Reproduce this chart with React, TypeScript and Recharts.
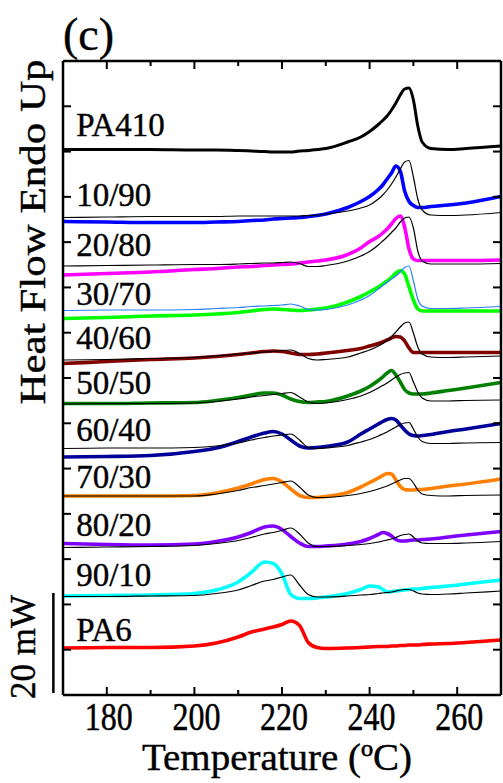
import { LineChart, Line, XAxis, YAxis, ReferenceLine, ReferenceDot, Label } from "recharts";

// DSC heating scans, stacked with offsets (mW). Thin lines are the
// additive PA410/PA6 predictions drawn under each blend.
const TEMPS = [170, 180, 190, 200, 205, 210, 213, 216, 218, 220, 222, 224, 226, 228, 230, 235, 238, 240, 242, 243, 244, 245, 246, 247, 248, 249, 250, 251, 252, 254, 258, 262, 270];

const PA410 = [109.1, 109.1, 109.1, 109.0, 109.0, 108.9, 108.8, 108.7, 108.6, 108.6, 108.6, 108.8, 108.9, 109.1, 109.3, 110.6, 111.6, 112.7, 114.1, 114.9, 115.8, 117.0, 118.4, 120.0, 121.2, 121.4, 119.0, 113.8, 110.6, 109.3, 109.1, 109.3, 109.8];
const B1090 = [94.7, 94.6, 94.5, 94.5, 94.6, 94.7, 94.9, 95.0, 95.2, 95.3, 95.4, 95.5, 95.7, 95.9, 96.2, 97.5, 98.7, 99.7, 101.1, 102.0, 103.2, 104.4, 105.8, 104.8, 100.8, 98.7, 97.9, 97.5, 97.5, 97.7, 98.0, 98.4, 99.7];
const C1090 = [95.5, 95.6, 95.7, 95.7, 95.7, 95.8, 95.8, 95.8, 95.8, 95.8, 95.8, 95.8, 95.9, 96.0, 96.2, 96.8, 97.4, 98.0, 99.2, 100.0, 101.0, 102.2, 103.6, 105.2, 106.6, 106.9, 103.6, 99.2, 97.0, 96.0, 95.9, 96.0, 96.5];
const B2080 = [84.0, 84.3, 84.6, 85.1, 85.3, 85.6, 85.7, 85.9, 86.0, 86.1, 86.2, 86.4, 86.6, 86.8, 87.0, 88.1, 89.4, 90.7, 91.7, 92.4, 93.2, 94.2, 95.3, 95.8, 93.6, 89.2, 87.2, 86.9, 86.9, 86.9, 86.9, 86.9, 87.0];
const C2080 = [85.8, 85.9, 86.0, 86.1, 86.1, 86.2, 86.3, 86.4, 86.4, 86.5, 86.6, 86.3, 85.7, 85.7, 85.9, 86.8, 87.8, 88.7, 90.0, 90.8, 91.6, 92.5, 93.4, 94.6, 95.4, 95.6, 93.4, 88.8, 86.8, 86.2, 86.2, 86.2, 86.3];
const B3070 = [75.3, 75.5, 75.8, 76.0, 76.2, 76.5, 76.8, 77.1, 77.2, 77.1, 77.0, 76.9, 77.0, 77.2, 77.4, 78.6, 79.7, 80.6, 81.6, 82.2, 82.8, 83.5, 84.4, 84.9, 84.2, 81.6, 79.0, 77.2, 76.8, 76.8, 76.8, 76.8, 76.8];
const C3070 = [76.9, 77.0, 77.0, 77.1, 77.3, 77.5, 77.7, 77.8, 77.9, 78.0, 78.2, 77.8, 77.1, 77.0, 77.1, 78.0, 79.0, 79.9, 81.2, 81.9, 82.6, 83.2, 83.8, 84.6, 85.5, 85.8, 82.8, 79.2, 77.8, 77.3, 77.3, 77.4, 77.7];
const B4060 = [66.3, 66.7, 67.1, 67.4, 67.7, 68.1, 68.4, 68.7, 68.8, 68.7, 68.4, 68.1, 68.1, 68.2, 68.4, 68.9, 69.3, 69.8, 70.3, 70.6, 71.0, 71.4, 71.7, 71.6, 70.8, 69.4, 68.5, 68.5, 68.5, 68.5, 68.5, 68.5, 68.5];
const C4060 = [67.0, 67.1, 67.3, 67.5, 67.8, 68.2, 68.4, 68.6, 68.7, 68.9, 69.0, 68.3, 67.3, 67.0, 67.1, 67.6, 68.4, 69.0, 69.8, 70.3, 70.9, 71.7, 72.6, 73.6, 74.4, 74.6, 72.4, 69.6, 68.2, 67.6, 67.5, 67.6, 67.8];
const B5050 = [58.3, 58.3, 58.4, 58.5, 58.9, 59.5, 60.0, 60.4, 60.4, 60.0, 59.2, 58.7, 58.5, 58.6, 58.7, 59.8, 60.8, 61.7, 62.9, 63.6, 64.4, 64.9, 64.0, 62.6, 61.1, 60.4, 60.2, 60.2, 60.2, 60.4, 60.9, 61.4, 62.5];
const C5050 = [58.2, 58.3, 58.3, 58.4, 58.7, 59.2, 59.6, 59.9, 60.1, 60.3, 60.5, 59.6, 58.6, 58.3, 58.4, 59.1, 59.8, 60.5, 61.4, 61.9, 62.4, 63.0, 63.6, 64.1, 64.4, 64.5, 62.6, 60.6, 59.4, 58.8, 58.8, 58.9, 59.0];
const B6040 = [47.6, 47.7, 47.9, 48.7, 49.4, 50.7, 51.6, 52.4, 52.7, 52.2, 51.0, 49.8, 49.4, 49.5, 49.7, 50.6, 52.2, 53.2, 54.2, 54.7, 55.1, 55.3, 55.0, 54.0, 53.0, 52.2, 51.9, 51.8, 51.9, 52.1, 52.7, 53.2, 54.3];
const C6040 = [49.3, 49.4, 49.4, 49.5, 49.8, 50.4, 51.0, 51.5, 51.8, 52.0, 52.2, 51.0, 49.5, 49.3, 49.4, 49.9, 50.6, 51.1, 51.8, 52.2, 52.6, 53.1, 53.6, 54.1, 54.4, 54.5, 53.2, 51.6, 50.7, 50.3, 50.3, 50.4, 50.5];
const B7030 = [39.8, 39.8, 39.8, 39.9, 40.4, 41.4, 42.2, 43.1, 43.3, 42.6, 41.2, 39.9, 39.5, 39.5, 39.7, 40.5, 41.6, 42.5, 43.4, 43.9, 44.3, 44.2, 43.0, 41.7, 41.1, 41.0, 41.0, 41.1, 41.1, 41.3, 41.8, 42.2, 43.2];
const C7030 = [39.8, 39.8, 39.8, 39.8, 40.2, 40.9, 41.5, 41.9, 42.2, 42.5, 42.8, 41.6, 40.0, 39.5, 39.5, 39.9, 40.3, 40.7, 41.2, 41.5, 41.8, 42.2, 42.6, 43.0, 43.3, 43.3, 42.4, 41.0, 40.2, 39.9, 39.8, 39.9, 40.0];
const B8020 = [30.3, 30.1, 30.0, 30.2, 30.7, 31.6, 32.5, 33.6, 33.8, 33.1, 31.7, 30.4, 29.7, 29.7, 29.8, 30.2, 30.7, 31.3, 32.1, 32.5, 32.3, 31.8, 31.1, 30.8, 30.8, 30.9, 31.0, 31.0, 31.1, 31.2, 31.6, 32.0, 32.7];
const C8020 = [29.5, 29.6, 29.7, 29.9, 30.3, 30.9, 31.5, 32.2, 32.5, 32.9, 33.4, 32.2, 30.4, 29.7, 29.7, 29.9, 30.1, 30.3, 30.6, 30.8, 31.0, 31.2, 31.5, 31.9, 32.1, 32.2, 31.6, 30.8, 30.4, 30.3, 30.3, 30.4, 30.7];
const B9010 = [19.8, 19.9, 20.0, 20.3, 21.0, 22.6, 24.5, 26.6, 26.3, 24.2, 20.1, 19.3, 19.3, 19.4, 19.6, 20.3, 21.1, 21.8, 21.6, 21.1, 20.6, 20.7, 20.8, 20.9, 21.0, 21.1, 21.2, 21.2, 21.3, 21.5, 21.8, 22.2, 23.0];
const C9010 = [19.7, 19.7, 19.8, 19.9, 20.3, 21.0, 21.9, 22.8, 23.1, 23.6, 24.0, 22.0, 20.1, 19.6, 19.6, 19.8, 20.0, 20.1, 20.3, 20.4, 20.5, 20.6, 20.8, 21.0, 21.1, 21.1, 20.8, 20.4, 20.2, 20.1, 20.2, 20.4, 20.8];
const PA6 = [9.4, 9.5, 9.5, 9.8, 10.4, 11.6, 12.6, 13.2, 13.6, 14.1, 14.8, 13.9, 10.5, 9.5, 9.3, 9.4, 9.5, 9.6, 9.7, 9.7, 9.7, 9.8, 9.8, 9.9, 9.9, 10.0, 10.0, 10.0, 10.1, 10.2, 10.3, 10.5, 11.0];

const SAMPLE_NAMES = ["PA410", "10/90", "20/80", "30/70", "40/60", "50/50", "60/40", "70/30", "80/20", "90/10", "PA6"];
const SAMPLE_LABEL_Y = [111.8, 97.8, 87.8, 78.0, 69.2, 60.2, 50.8, 41.4, 31.8, 21.8, 10.8];

const X_TICKS = [170, 180, 190, 200, 210, 220, 230, 240, 250, 260, 270];
const SCALE_BAR_MW = 20;

const Y_MAX = 126.8;
const Y_TICKS = Array.from({ length: 13 }, (_, i) => ((i + 1) * Y_MAX) / 14);

const FONT = "Liberation Serif, Tinos, Times New Roman, Times, serif";
// slight outline so the serif glyphs read as heavy as the printed figure
const textStyle = { fontFamily: FONT, stroke: "#000", strokeWidth: 0.4 };

const measured = [
  { key: "pa410", values: PA410, color: "#000000", width: 3 },
  { key: "b1090", values: B1090, color: "#0000ff", width: 3.6 },
  { key: "b2080", values: B2080, color: "#ff00ff", width: 3.6 },
  { key: "b3070", values: B3070, color: "#00ff00", width: 3.6 },
  { key: "b4060", values: B4060, color: "#800000", width: 3.6 },
  { key: "b5050", values: B5050, color: "#008000", width: 3.6 },
  { key: "b6040", values: B6040, color: "#000099", width: 3.6 },
  { key: "b7030", values: B7030, color: "#ff8000", width: 3.6 },
  { key: "b8020", values: B8020, color: "#8000ff", width: 3.6 },
  { key: "b9010", values: B9010, color: "#00ffff", width: 3.6 },
  { key: "pa6", values: PA6, color: "#ff0000", width: 3.6 },
];

const calculated = [
  { key: "c1090", values: C1090, color: "#000000" },
  { key: "c2080", values: C2080, color: "#000000" },
  { key: "c3070", values: C3070, color: "#2a7fff" },
  { key: "c4060", values: C4060, color: "#000000" },
  { key: "c5050", values: C5050, color: "#000000" },
  { key: "c6040", values: C6040, color: "#000000" },
  { key: "c7030", values: C7030, color: "#000000" },
  { key: "c8020", values: C8020, color: "#000000" },
  { key: "c9010", values: C9010, color: "#000000" },
];

const rows = TEMPS.map((t, i) => {
  const row: Record<string, number> = { t };
  [...measured, ...calculated].forEach((s) => {
    row[s.key] = s.values[i];
  });
  return row;
});

const BottomTick = (props: any) => {
  const { x, y, payload } = props;
  const v = payload.value;
  if (v === 170 || v === 270) return null;
  const major = v % 20 === 0;
  return (
    <g>
      <line x1={x} x2={x} y1={y} y2={y - (major ? 8 : 5)} stroke="#000" strokeWidth={2} />
      {major && (
        <text
          transform={`translate(${x + 2}, ${y + 35}) scale(1, 1.26)`}
          textAnchor="middle"
          style={textStyle}
          fontSize={32}
          fill="#000"
        >
          {v}
        </text>
      )}
    </g>
  );
};

const TopTick = (props: any) => {
  const { x, y, payload } = props;
  const v = payload.value;
  if (v === 170 || v === 270) return null;
  const major = v % 20 === 0;
  return <line x1={x} x2={x} y1={y} y2={y + (major ? 8 : 5)} stroke="#000" strokeWidth={2} />;
};

const LeftTick = (props: any) => {
  const { x, y } = props;
  return <line x1={x} x2={x + 8} y1={y} y2={y} stroke="#000" strokeWidth={2} />;
};

const RightTick = (props: any) => {
  const { x, y } = props;
  return <line x1={x} x2={x - 8} y1={y} y2={y} stroke="#000" strokeWidth={2} />;
};

export default function App() {
  return (
    <div style={{ position: "absolute", left: 0, top: 0, width: 503, height: 783 }}>
      <LineChart width={503} height={783} data={rows} margin={{ top: 60, right: 0, bottom: 0, left: 53 }}>
        <XAxis
          dataKey="t"
          type="number"
          domain={[170, 270]}
          allowDataOverflow
          ticks={X_TICKS}
          interval={0}
          height={88}
          tickSize={0}
          tickMargin={0}
          tickLine={false}
          tick={<BottomTick />}
          axisLine={{ stroke: "#000", strokeWidth: 2.5 }}
        >
          <Label
            content={(p: any) => (
              <text
                x={p.viewBox.x + p.viewBox.width / 2 - 5}
                y={p.viewBox.y + 75}
                textAnchor="middle"
                style={textStyle}
                fontSize={37}
                textLength={270}
                lengthAdjust="spacingAndGlyphs"
                fill="#000"
              >
                Temperature (ºC)
              </text>
            )}
          />
        </XAxis>
        <XAxis
          xAxisId="top"
          orientation="top"
          dataKey="t"
          type="number"
          domain={[170, 270]}
          allowDataOverflow
          ticks={X_TICKS}
          interval={0}
          height={1}
          tickSize={0}
          tickMargin={0}
          tickLine={false}
          tick={<TopTick />}
          axisLine={{ stroke: "#000", strokeWidth: 2.5 }}
        >
          <Label
            content={(p: any) => (
              <text x={p.viewBox.x} y={p.viewBox.y - 10} style={textStyle} fontSize={46} fill="#000">
                (c)
              </text>
            )}
          />
        </XAxis>
        <YAxis
          type="number"
          domain={[0, Y_MAX]}
          allowDataOverflow
          ticks={Y_TICKS}
          interval={0}
          width={10}
          tickSize={0}
          tickMargin={0}
          tickLine={false}
          tick={<LeftTick />}
          axisLine={{ stroke: "#000", strokeWidth: 2.5 }}
        >
          <Label
            content={(p: any) => (
              <text
                transform={`translate(${p.viewBox.x - 8}, ${p.viewBox.y + 171}) rotate(-90)`}
                textAnchor="middle"
                style={textStyle}
                fontSize={36}
                textLength={345}
                lengthAdjust="spacingAndGlyphs"
                fill="#000"
              >
                Heat Flow Endo Up
              </text>
            )}
          />
        </YAxis>
        <YAxis
          yAxisId="right"
          orientation="right"
          type="number"
          domain={[0, Y_MAX]}
          allowDataOverflow
          ticks={Y_TICKS}
          interval={0}
          width={2}
          tickSize={0}
          tickMargin={0}
          tickLine={false}
          tick={<RightTick />}
          axisLine={{ stroke: "#000", strokeWidth: 2.5 }}
        />

        {measured.map((s) => (
          <Line
            key={s.key}
            dataKey={s.key}
            type="monotone"
            stroke={s.color}
            strokeWidth={s.width}
            dot={false}
            activeDot={false}
            isAnimationActive={false}
          />
        ))}
        {calculated.map((s) => (
          <Line
            key={s.key}
            dataKey={s.key}
            type="monotone"
            stroke={s.color}
            strokeWidth={1.2}
            dot={false}
            activeDot={false}
            isAnimationActive={false}
          />
        ))}

        {SAMPLE_NAMES.map((name, i) => (
          <ReferenceDot
            key={name}
            x={173}
            y={SAMPLE_LABEL_Y[i]}
            r={0}
            fill="none"
            stroke="none"
            ifOverflow="visible"
            label={(p: any) => (
              <text x={p.viewBox.x} y={p.viewBox.y} style={textStyle} fontSize={33} fill="#000">
                {name}
              </text>
            )}
          />
        ))}

        <ReferenceLine
          segment={[
            { x: 167.8, y: 0.4 },
            { x: 167.8, y: 0.4 + SCALE_BAR_MW },
          ]}
          stroke="#000"
          strokeWidth={2.5}
          ifOverflow="visible"
          label={(p: any) => (
            <text
              transform={`translate(${p.viewBox.x - 18}, ${p.viewBox.y + p.viewBox.height / 2 + 4}) rotate(-90)`}
              textAnchor="middle"
              style={textStyle}
              fontSize={35}
              fill="#000"
            >
              {`${SCALE_BAR_MW} mW`}
            </text>
          )}
        />
      </LineChart>
    </div>
  );
}
